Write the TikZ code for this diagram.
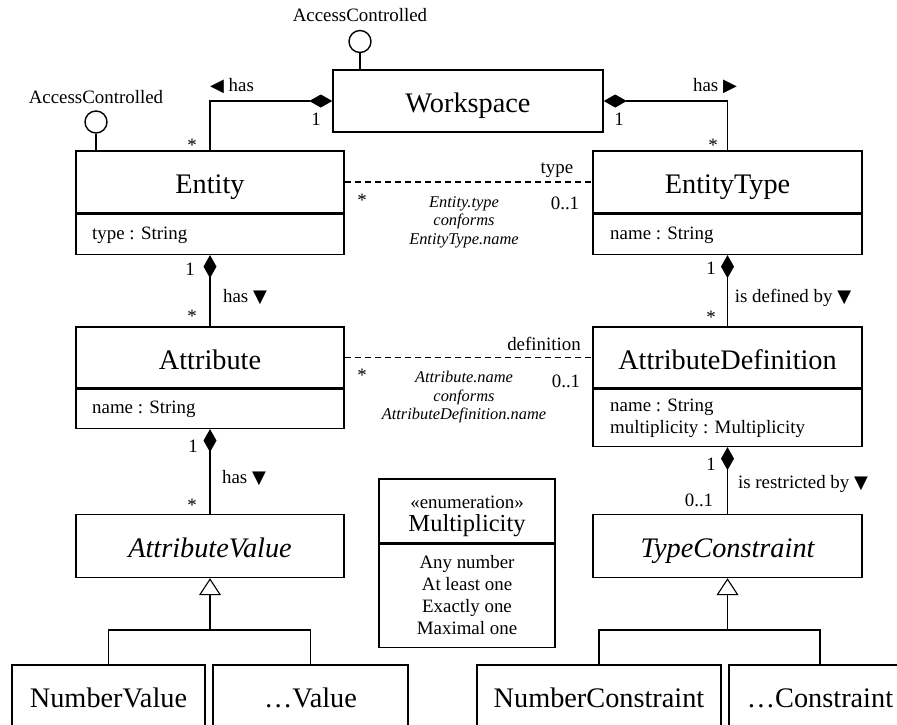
\documentclass[tikz,border=0pt]{standalone}
\usepackage{fontspec}
\setmainfont{Liberation Serif}
\newfontfamily\symfont{DejaVu Sans}
\usetikzlibrary{arrows.meta}
% direction marks beside association names
\newcommand\umlmark[1]{{\symfont\fontsize{18}{18}\selectfont #1}}
\begin{document}
\begin{tikzpicture}[x=1pt,y=-1pt,
  box/.style={draw,line width=1.4pt,inner sep=0pt,text height=26pt,text depth=3pt,
    font=\fontsize{28.3}{34}\selectfont},
  compart/.style={draw,line width=1.4pt,inner sep=0pt},
  lbl/.style={inner sep=0pt,font=\fontsize{18.9}{22}\selectfont},
  enumname/.style={inner sep=0pt,font=\fontsize{24.5}{28}\selectfont},
  note/.style={inner sep=0pt,align=center,font=\fontsize{16.4}{18.5}\selectfont\itshape},
  conn/.style={line width=1.1pt},
  comp/.style={conn,-{Diamond[length=23pt,width=13pt]}},
  gen/.style={conn,-{Triangle[length=17pt,width=22pt,fill=white]}},
  link/.style={conn,dash pattern=on 6pt off 4pt},
  lolli/.style={draw,circle,line width=1.4pt,minimum size=22pt,inner sep=0pt},
]
\useasboundingbox (0,0) rectangle (897,724);
\clip (0,0) rectangle (897,724);

% ---- classes ----
\node[box,minimum width=270pt,minimum height=62pt] (ws) at (468,101) {Workspace};

\node[box,minimum width=268pt,minimum height=62pt] (ent) at (210,182) {Entity};
\node[compart,minimum width=268pt,minimum height=40pt,anchor=north] (entC) at (ent.south) {};
\node[lbl,anchor=west] (entA) at (92,235.5) {type : String};

\node[box,minimum width=269pt,minimum height=62pt] (ety) at (727.5,182) {EntityType};
\node[compart,minimum width=269pt,minimum height=40pt,anchor=north] (etyC) at (ety.south) {};
\node[lbl,anchor=west] (etyA) at (610,235.5) {name : String};

\node[box,minimum width=268pt,minimum height=61pt] (att) at (210,357.5) {Attribute};
\node[compart,minimum width=268pt,minimum height=39pt,anchor=north] (attC) at (att.south) {};
\node[lbl,anchor=west] (attA) at (92,409) {name : String};

\node[box,minimum width=269pt,minimum height=61pt] (adef) at (727.5,357.5) {AttributeDefinition};
\node[compart,minimum width=269pt,minimum height=57pt,anchor=north] (adefC) at (adef.south) {};
\node[lbl,anchor=west,align=left] (adefA) at (610,418) {name : String\\multiplicity : Multiplicity};

\node[box,minimum width=268pt,minimum height=63pt,font=\fontsize{28.3}{34}\selectfont\itshape] (av) at (210,546) {AttributeValue};
\node[box,minimum width=269pt,minimum height=63pt,font=\fontsize{28.3}{34}\selectfont\itshape] (tc) at (727.5,546) {TypeConstraint};

\node[box,minimum width=193pt,minimum height=62pt] (nv) at (108.5,696) {NumberValue};
\node[box,minimum width=195pt,minimum height=62pt] (ov) at (310.5,696) {…Value};
\node[box,minimum width=244pt,minimum height=62pt] (nc) at (599,696) {NumberConstraint};
\node[box,minimum width=182pt,minimum height=62pt] (oc) at (820,696) {…Constraint};

% ---- enumeration ----
\node[compart,minimum width=176pt,minimum height=64pt] (mult) at (467,511) {};
\node[lbl] (multS) at (467,502) {«enumeration»};
\node[enumname] (multN) at (467,526) {Multiplicity};
\node[compart,minimum width=176pt,minimum height=103pt,anchor=north] (multC) at (mult.south) {};
\node[lbl,align=center,font=\fontsize{18.9}{21.7}\selectfont] (multV) at (467,595) {Any number\\At least one\\Exactly one\\Maximal one};

% ---- provided interfaces ----
\node[lolli] (wsI) at (360,41.5) {};
\node[lbl,anchor=base] (wsIL) at (360,21.5) {AccessControlled};
\draw[conn] (wsI.south) -- (wsI |- ws.north);
\node[lolli] (entI) at (96,122) {};
\node[lbl,anchor=base] (entIL) at (96,103) {AccessControlled};
\draw[conn] (entI.south) -- (entI |- ent.north);

% ---- compositions ----
\draw[comp] (ent.north) |- (ws.west);
\node[lbl,anchor=base] (l1) at (232,91) {\umlmark{◀}~has};
\node[lbl,anchor=base] (l1a) at (316,125) {1};
\node[lbl,anchor=base] (l1b) at (192,151.5) {*};

\draw[comp] (ety.north) |- (ws.east);
\node[lbl,anchor=base] (l2) at (715,91) {has~\umlmark{▶}};
\node[lbl,anchor=base] (l2a) at (619,125) {1};
\node[lbl,anchor=base] (l2b) at (713,151.5) {*};

\draw[comp] (att.north) -- (entC.south);
\node[lbl,anchor=base] (l3) at (245,302) {has~\umlmark{▼}};
\node[lbl,anchor=base] (l3a) at (190,275) {1};
\node[lbl,anchor=base] (l3b) at (192,322) {*};

\draw[comp] (adef.north) -- (etyC.south);
\node[lbl,anchor=base] (l4) at (793,302) {is defined by~\umlmark{▼}};
\node[lbl,anchor=base] (l4a) at (711,274) {1};
\node[lbl,anchor=base] (l4b) at (711,323) {*};

\draw[comp] (av.north) -- (attC.south);
\node[lbl,anchor=base] (l5) at (244,483) {has~\umlmark{▼}};
\node[lbl,anchor=base] (l5a) at (193,452) {1};
\node[lbl,anchor=base] (l5b) at (192,511) {*};

\draw[comp] (tc.north) -- (adefC.south);
\node[lbl,anchor=base] (l6) at (803,488) {is restricted by~\umlmark{▼}};
\node[lbl,anchor=base] (l6a) at (711,470) {1};
\node[lbl,anchor=base] (l6b) at (699,506) {0..1};

% ---- name-based links ----
\draw[link] (ent.east) -- (ety.west);
\node[lbl,anchor=base] (k1) at (557,173) {type};
\node[lbl,anchor=base] (k1a) at (362,206) {*};
\node[lbl,anchor=base] (k1b) at (565,209) {0..1};
\node[note] (k1n) at (464,222) {Entity.type\\conforms\\EntityType.name};

\draw[link] (att.east) -- (adef.west);
\node[lbl,anchor=base] (k2) at (544,350) {definition};
\node[lbl,anchor=base] (k2a) at (362,381) {*};
\node[lbl,anchor=base] (k2b) at (566,387) {0..1};
\node[note] (k2n) at (464,397.5) {Attribute.name\\conforms\\AttributeDefinition.name};

% ---- generalizations ----
\coordinate (avJ) at (210,630);
\draw[gen] (nv.north) |- (avJ) -- (av.south);
\draw[conn] (ov.north) |- (avJ);

\coordinate (tcJ) at (727.5,630);
\draw[gen] (nc.north) |- (tcJ) -- (tc.south);
\draw[conn] (oc.north) |- (tcJ);
\end{tikzpicture}
\end{document}
